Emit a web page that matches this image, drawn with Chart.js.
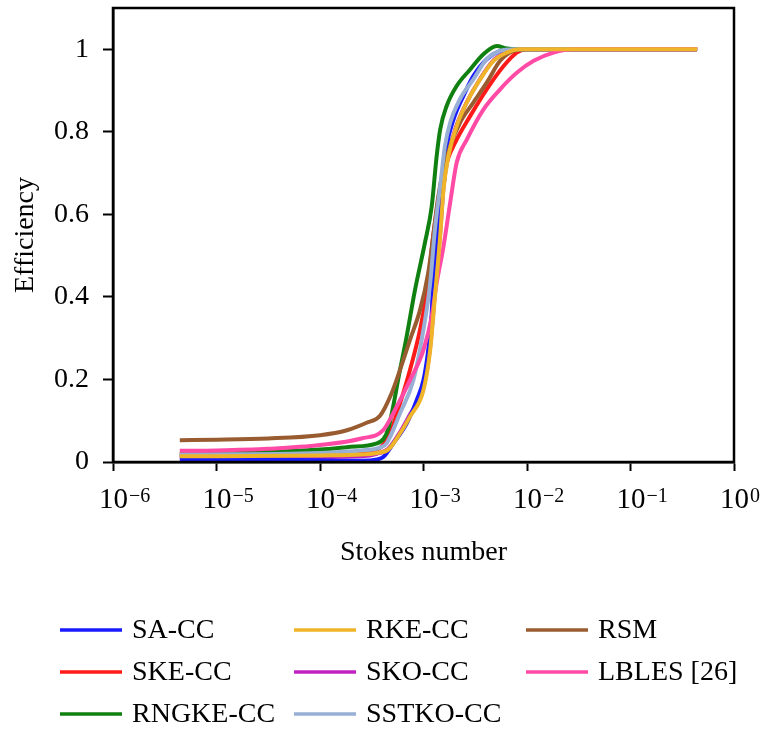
<!DOCTYPE html>
<html>
<head>
<meta charset="utf-8">
<script src="https://cdn.jsdelivr.net/npm/chart.js@4.4.1/dist/chart.umd.min.js"></script>
<style>
  html, body { margin: 0; padding: 0; background: #fff; }
</style>
</head>
<body>
<canvas id="chart" width="761" height="731"></canvas>
<script>
const xTicks = [1e-6, 1e-5, 1e-4, 1e-3, 1e-2, 1e-1, 1];
const xTickExps = ['−6', '−5', '−4', '−3', '−2', '−1', '0'];
const yTicks = [0, 0.2, 0.4, 0.6, 0.8, 1];

// [Stokes number, efficiency]
const saCC = [[4.42e-6, 0.007], [1e-5, 0.007], [3.16e-5, 0.006], [1e-4, 0.004], [2.51e-4, 0.003], [3.55e-4, 0.006], [4.08e-4, 0.012], [5.11e-4, 0.045], [6.87e-4, 0.093], [8.59e-4, 0.150], [9.98e-4, 0.198], [1.11e-3, 0.271], [1.20e-3, 0.360], [1.24e-3, 0.441], [1.34e-3, 0.547], [1.50e-3, 0.660], [1.67e-3, 0.765], [1.95e-3, 0.830], [2.43e-3, 0.887], [3.03e-3, 0.935], [4.08e-3, 0.976], [5.50e-3, 0.996], [7.40e-3, 1.0], [2e-2, 1.0], [0.1, 1.0], [0.44, 1.0]];
const skeCC = [[4.42e-6, 0.017], [1e-5, 0.017], [1e-4, 0.020], [2.51e-4, 0.025], [3.55e-4, 0.030], [4.73e-4, 0.069], [5.93e-4, 0.142], [7.40e-4, 0.223], [9.25e-4, 0.320], [1.11e-3, 0.433], [1.24e-3, 0.547], [1.45e-3, 0.660], [1.67e-3, 0.725], [2.09e-3, 0.781], [2.82e-3, 0.838], [4.08e-3, 0.903], [5.92e-3, 0.959], [7.96e-3, 0.992], [9.95e-3, 1.0], [2e-2, 1.0], [0.1, 1.0], [0.44, 1.0]];
const rngkeCC = [[4.42e-6, 0.020], [1e-5, 0.021], [1e-4, 0.030], [1.82e-4, 0.036], [3.55e-4, 0.045], [4.08e-4, 0.055], [4.56e-4, 0.080], [5.93e-4, 0.223], [6.87e-4, 0.304], [8.28e-4, 0.417], [1.03e-3, 0.530], [1.20e-3, 0.619], [1.34e-3, 0.741], [1.45e-3, 0.806], [1.67e-3, 0.862], [2.09e-3, 0.911], [2.82e-3, 0.951], [3.79e-3, 0.988], [5.10e-3, 1.008], [6.38e-3, 1.002], [7.96e-3, 1.0], [2e-2, 1.0], [0.1, 1.0], [0.44, 1.0]];
const rkeCC = [[4.42e-6, 0.014], [1e-5, 0.014], [1e-4, 0.016], [2.51e-4, 0.018], [3.55e-4, 0.022], [4.56e-4, 0.030], [5.93e-4, 0.069], [7.40e-4, 0.110], [9.98e-4, 0.174], [1.16e-3, 0.271], [1.29e-3, 0.401], [1.45e-3, 0.547], [1.56e-3, 0.660], [1.74e-3, 0.741], [2.09e-3, 0.814], [2.62e-3, 0.871], [3.52e-3, 0.927], [4.74e-3, 0.972], [6.38e-3, 0.992], [8.59e-3, 1.0], [2e-2, 1.0], [0.1, 1.0], [0.44, 1.0]];
const skoCC = [[4.42e-6, 0.012], [1e-5, 0.012], [1e-4, 0.012], [2.51e-4, 0.014], [3.55e-4, 0.020], [4.56e-4, 0.032], [5.93e-4, 0.072], [7.40e-4, 0.115], [9.98e-4, 0.180], [1.16e-3, 0.280], [1.29e-3, 0.410], [1.45e-3, 0.555], [1.56e-3, 0.665], [1.74e-3, 0.745], [2.09e-3, 0.816], [2.62e-3, 0.872], [3.52e-3, 0.928], [4.74e-3, 0.973], [6.38e-3, 0.993], [8.59e-3, 1.0], [2e-2, 1.0], [0.1, 1.0], [0.44, 1.0]];
const sstkoCC = [[4.42e-6, 0.019], [1e-5, 0.019], [1e-4, 0.022], [2.51e-4, 0.028], [3.80e-4, 0.035], [4.40e-4, 0.045], [5.93e-4, 0.118], [7.98e-4, 0.198], [9.98e-4, 0.320], [1.16e-3, 0.433], [1.29e-3, 0.563], [1.45e-3, 0.668], [1.61e-3, 0.765], [1.81e-3, 0.822], [2.25e-3, 0.879], [3.03e-3, 0.927], [4.08e-3, 0.976], [5.50e-3, 0.996], [7.40e-3, 1.0], [2e-2, 1.0], [0.1, 1.0], [0.44, 1.0]];
const rsm = [[4.42e-6, 0.053], [1e-5, 0.054], [3.16e-5, 0.057], [1e-4, 0.065], [1.82e-4, 0.077], [2.82e-4, 0.095], [3.80e-4, 0.112], [4.91e-4, 0.166], [5.93e-4, 0.223], [7.40e-4, 0.296], [9.25e-4, 0.368], [1.11e-3, 0.458], [1.24e-3, 0.547], [1.39e-3, 0.644], [1.56e-3, 0.709], [1.81e-3, 0.765], [2.25e-3, 0.822], [3.03e-3, 0.871], [4.08e-3, 0.919], [5.50e-3, 0.972], [7.40e-3, 0.996], [9.95e-3, 1.0], [2e-2, 1.0], [0.1, 1.0], [0.44, 1.0]];
const lbles = [[4.42e-6, 0.027], [1e-5, 0.028], [3.16e-5, 0.032], [1e-4, 0.041], [2.51e-4, 0.057], [4.08e-4, 0.077], [5.50e-4, 0.134], [7.40e-4, 0.198], [9.98e-4, 0.271], [1.20e-3, 0.352], [1.34e-3, 0.433], [1.56e-3, 0.522], [1.81e-3, 0.628], [2.09e-3, 0.725], [2.62e-3, 0.781], [3.79e-3, 0.854], [5.50e-3, 0.903], [7.96e-3, 0.943], [1.16e-2, 0.972], [1.80e-2, 0.992], [2.81e-2, 1.0], [0.1, 1.0], [0.44, 1.0]];

// legend order (column by column, 3 rows each)
const seriesNames = ['SA-CC', 'SKE-CC', 'RNGKE-CC', 'RKE-CC', 'SKO-CC', 'SSTKO-CC', 'RSM', 'LBLES [26]'];
const seriesData = [saCC, skeCC, rngkeCC, rkeCC, skoCC, sstkoCC, rsm, lbles];
const seriesColors = ['#1a1aff', '#ff1a1a', '#108010', '#f0b429', '#c020c0', '#98afd6', '#995c30', '#ff4aa6'];
// lower = drawn on top
const drawOrder = [5, 6, 4, 0, 7, 2, 3, 1];

const font = { family: 'Liberation Serif', size: 28 };

const datasets = seriesNames.map((name, i) => ({
  label: name,
  data: seriesData[i].map(p => ({ x: p[0], y: p[1] })),
  borderColor: seriesColors[i],
  backgroundColor: seriesColors[i],
  borderWidth: 4,
  pointRadius: 0,
  fill: false,
  cubicInterpolationMode: 'monotone',
  tension: 0.4,
  order: drawOrder[i]
}));

// box around the plot
const framePlugin = {
  id: 'frame',
  afterDatasetsDraw(chart) {
    const { ctx, chartArea: a } = chart;
    ctx.save();
    ctx.strokeStyle = '#000';
    ctx.lineWidth = 2.5;
    ctx.strokeRect(a.left, a.top, a.right - a.left, a.bottom - a.top);
    ctx.restore();
  }
};

// x tick labels as 10 with a raised exponent
const powerLabels = {
  id: 'powerLabels',
  afterDraw(chart) {
    const ctx = chart.ctx;
    const sx = chart.scales.x;
    ctx.save();
    ctx.fillStyle = '#000';
    ctx.textAlign = 'left';
    ctx.textBaseline = 'alphabetic';
    xTicks.forEach((v, i) => {
      const px = sx.getPixelForValue(v);
      ctx.font = '29px "Liberation Serif"';
      const x0 = px - 14;
      ctx.fillText('10', x0, 508);
      const w = ctx.measureText('10').width;
      ctx.font = '20px "Liberation Serif"';
      ctx.fillText(xTickExps[i], x0 + w + 1, 502);
    });
    ctx.restore();
  }
};

// matplotlib-like legend, 3 columns
const legendPlugin = {
  id: 'colLegend',
  afterDraw(chart) {
    const ctx = chart.ctx;
    const colX = [60, 294, 526];
    const rowY = [630, 672, 714];
    ctx.save();
    ctx.font = '28px "Liberation Serif"';
    ctx.textBaseline = 'middle';
    ctx.fillStyle = '#000';
    seriesNames.forEach((name, i) => {
      const x = colX[Math.floor(i / 3)];
      const y = rowY[i % 3];
      ctx.strokeStyle = seriesColors[i];
      ctx.lineWidth = 3.5;
      ctx.beginPath();
      ctx.moveTo(x, y);
      ctx.lineTo(x + 62, y);
      ctx.stroke();
      ctx.fillText(name, x + 72, y + 1);
    });
    ctx.restore();
  }
};

new Chart(document.getElementById('chart'), {
  type: 'line',
  data: { datasets },
  options: {
    responsive: false,
    animation: false,
    layout: { padding: { left: 0, top: 8, right: 27, bottom: 158 } },
    plugins: { legend: { display: false }, tooltip: { enabled: false } },
    scales: {
      x: {
        type: 'logarithmic',
        min: 1e-6,
        max: 1,
        afterBuildTicks: ax => { ax.ticks = xTicks.map(v => ({ value: v })); },
        afterFit: ax => { ax.height = 111; ax.paddingLeft = 0; ax.paddingRight = 0; },
        ticks: { display: false, autoSkip: false },
        grid: { drawOnChartArea: false, drawTicks: true, tickLength: 9, tickWidth: 2, color: '#000' },
        border: { display: true, color: '#000', width: 2.5 },
        title: { display: true, text: 'Stokes number', font, color: '#000', padding: { top: 4, bottom: 4 } }
      },
      y: {
        min: 0,
        max: 1.1,
        afterBuildTicks: ax => { ax.ticks = yTicks.map(v => ({ value: v })); },
        afterFit: ax => { ax.width = 113; ax.paddingTop = 0; ax.paddingBottom = 0; },
        ticks: { font, color: '#000', padding: 14, callback: v => String(v) },
        grid: { drawOnChartArea: false, drawTicks: true, tickLength: 10, tickWidth: 2, color: '#000' },
        border: { display: true, color: '#000', width: 2.5 },
        title: { display: true, text: 'Efficiency', font, color: '#000', padding: { top: 9, bottom: 4 } }
      }
    }
  },
  plugins: [framePlugin, powerLabels, legendPlugin]
});
</script>
</body>
</html>
